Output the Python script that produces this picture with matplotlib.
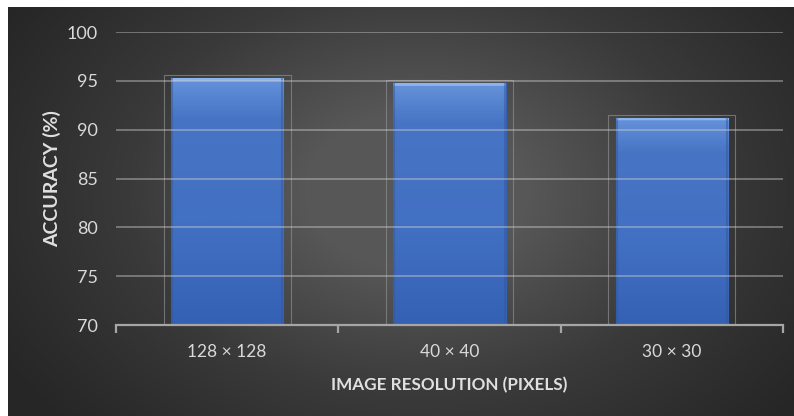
import numpy as np
import matplotlib
matplotlib.use("Agg")
import matplotlib.pyplot as plt
from matplotlib.colors import LinearSegmentedColormap

plt.rcParams['font.family'] = ['Lato', 'DejaVu Sans']

# Data
resolutions = ["128 × 128", "40 × 40", "30 × 30"]
accuracy = [95.3, 94.8, 91.2]
y_ticks = [70, 75, 80, 85, 90, 95, 100]

W, H, DPI = 794, 416, 100
fig = plt.figure(figsize=(W / DPI, H / DPI), dpi=DPI, facecolor="white")

# Dark radial-gradient backdrop (offset by a thin white margin at top/left)
bg = fig.add_axes([8 / W, 0, 1 - 8 / W, 1 - 7 / H])
bg.set_axis_off()
yy, xx = np.mgrid[0:1:300j, 0:1:600j]
r = np.sqrt(((xx - 0.52) / 0.62) ** 2 + ((yy - 0.45) / 0.85) ** 2)
shade = np.clip(1 - r, 0, 1) ** 1.1
bg_cmap = LinearSegmentedColormap.from_list("bg", ["#262626", "#3a3a3a", "#575757"])
bg.imshow(shade, cmap=bg_cmap, aspect="auto", extent=[0, 1, 0, 1], vmin=0, vmax=0.75)
bg.set_xlim(0, 1)
bg.set_ylim(0, 1)

ax = fig.add_axes([116 / W, 1 - 325 / H, (783 - 116) / W, (325 - 32) / H])
ax.patch.set_alpha(0)

x = np.arange(len(resolutions))

# Faint outline boxes around bars
ax.bar(x, [v + 0.3 - 70 for v in accuracy], bottom=70, width=0.57,
       facecolor="none", edgecolor="#8c8c8c", linewidth=0.8, alpha=0.7, zorder=2)

# Bars with a soft vertical gradient and a bright bevel at the top
bars = ax.bar(x, [v - 70 for v in accuracy], bottom=70, width=0.505,
              color="#4170c2", edgecolor="#3462b2", linewidth=0.8, zorder=3)
bar_cmap = LinearSegmentedColormap.from_list(
    "bar", ["#3461b3", "#3c69bc", "#4270c2", "#4572c3", "#4774c4", "#6e9be0", "#8ab5ee"])
grad = np.linspace(0, 1, 256).reshape(-1, 1)
grad = np.where(grad > 0.985, 1.0, grad * 0.8)
for b in bars:
    x0, y0 = b.get_x(), b.get_y()
    w, h = b.get_width(), b.get_height()
    im = ax.imshow(grad, cmap=bar_cmap, aspect="auto", origin="lower",
                   extent=[x0, x0 + w, y0, y0 + h], zorder=4, vmin=0, vmax=1)
    im.set_clip_path(b)
    # darker side edges for the bevel
    ax.plot([x0 + 0.004, x0 + 0.004], [y0, y0 + h], color="#34589a", lw=1.5, zorder=5, alpha=0.5)
    ax.plot([x0 + w - 0.004, x0 + w - 0.004], [y0, y0 + h], color="#34589a", lw=1.5, zorder=5, alpha=0.5)
ax.set_xlim(-0.5, len(resolutions) - 0.5)
ax.set_ylim(70, 100)

# Translucent gridlines drawn over the bars
ax.set_yticks(y_ticks)
for t in y_ticks[1:]:
    ax.axhline(t, color="#d0d0d0", linewidth=1.3, alpha=0.45, zorder=6)

# Axes styling
for s in ["top", "right", "left"]:
    ax.spines[s].set_visible(False)
ax.spines["bottom"].set_color("#a6a6a6")
ax.spines["bottom"].set_linewidth(1.6)
ax.spines["bottom"].set_zorder(7)

ax.set_xticks(np.arange(-0.5, len(resolutions), 1.0))
ax.set_xticklabels([])
ax.set_xticks(x, minor=True)
ax.set_xticklabels(resolutions, minor=True)
ax.tick_params(axis="x", which="major", length=6, width=1.6, color="#a6a6a6", direction="out")
ax.tick_params(axis="x", which="minor", length=0, pad=14, labelsize=12.5, labelcolor="#d9d9d9")
ax.tick_params(axis="y", length=0, pad=13, labelsize=13, labelcolor="#d9d9d9")

ax.set_xlabel("IMAGE RESOLUTION (PIXELS)", fontsize=12.3, fontweight="bold",
              color="#e0e0e0", labelpad=12)
ax.set_ylabel("ACCURACY (%)", fontsize=14, fontweight="bold", color="#e0e0e0", labelpad=4)

fig.savefig("out.png", dpi=DPI, facecolor="white")
